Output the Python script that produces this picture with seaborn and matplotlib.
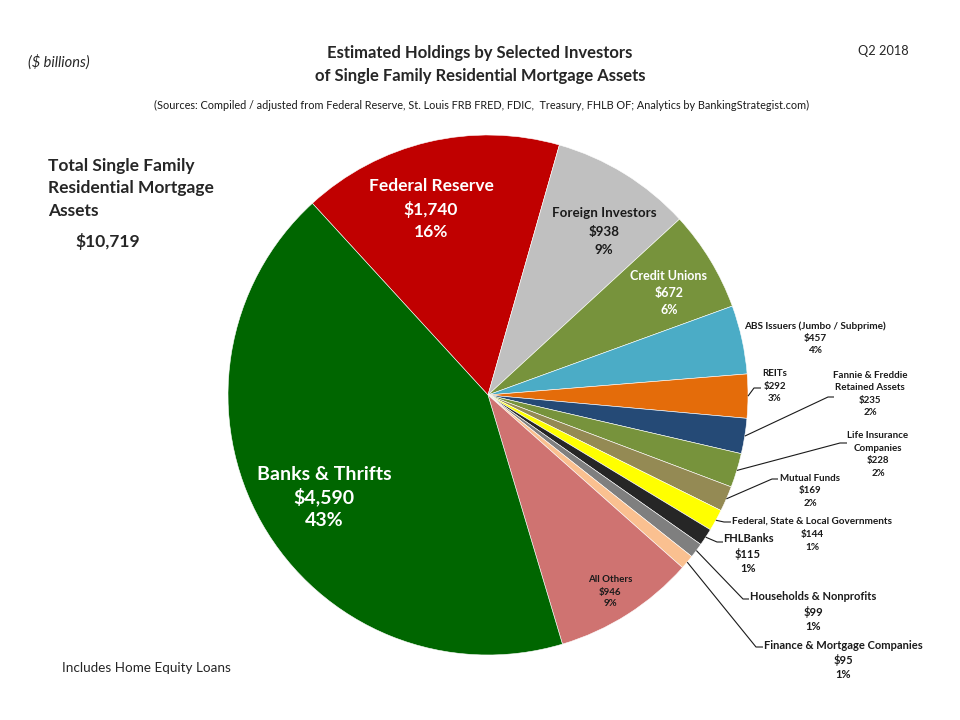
import numpy as np
import matplotlib
matplotlib.use("Agg")
import matplotlib.pyplot as plt
import seaborn as sns

# ── dados (US$ bilhões, Q2 2018) ───────────────────────────────
investors = [
    "Federal Reserve", "Foreign Investors", "Credit Unions",
    "ABS Issuers (Jumbo / Subprime)", "REITs",
    "Fannie & Freddie\nRetained Assets", "Life Insurance\nCompanies",
    "Mutual Funds", "Federal, State & Local Governments", "FHLBanks",
    "Households & Nonprofits", "Finance & Mortgage Companies",
    "All Others", "Banks & Thrifts",
]
holdings = [1740, 938, 672, 457, 292, 235, 228, 169, 144, 115, 99, 95, 946, 4590]
colors = [
    "#C00000", "#C0C0C0", "#77933C", "#4BACC6", "#E46C0A",
    "#254A76", "#77933C", "#948A54", "#FFFF00", "#262626",
    "#7F7F7F", "#FAC090", "#CF7371", "#006600",
]
total_assets = 10719

sns.set_theme(style="white")
plt.rcParams["font.family"] = ["Lato", "DejaVu Sans"]

W, H = 960, 720
CX, CY, R = 488, 395, 260  # centro e raio da pizza em pixels

fig = plt.figure(figsize=(9.6, 7.2), dpi=100)
fig.patch.set_facecolor("white")
ax = fig.add_axes([(CX - R) / W, 1 - (CY + R) / H, 2 * R / W, 2 * R / H])

wedges, _ = ax.pie(
    holdings, colors=colors, startangle=132.5, counterclock=False,
    radius=1, wedgeprops=dict(edgecolor="white", linewidth=0.4),
)
ax.set_xlim(-1, 1)
ax.set_ylim(-1, 1)
ax.axis("off")


def fig_xy(px, py):
    return px / W, 1 - py / H


def to_data(px, py):
    return (px - CX) / R, (CY - py) / R


# posição do rótulo (px), tamanho, cor, cotovelo da linha guia
label_layout = [
    dict(pos=(431, 209), size=12.5, color="white", gap=23),
    dict(pos=(604, 232), size=9.6, color="#1a1a1a", gap=18.5),
    dict(pos=(669, 293), size=9, color="white", gap=17),
    dict(pos=(815, 338), size=7.2, color="#1a1a1a", gap=12),
    dict(pos=(775, 386), size=7, color="#1a1a1a", gap=12.5, elbow=(754, 388), end=(761, 388)),
    dict(pos=(870, 400), size=7, color="#1a1a1a", gap=12.5, elbow=(828, 397), end=(834, 397)),
    dict(pos=(878, 461), size=7, color="#1a1a1a", gap=12.5, elbow=(840, 443), end=(847, 443)),
    dict(pos=(810, 491), size=7, color="#1a1a1a", gap=12.5, elbow=(772, 479), end=(778, 479)),
    dict(pos=(812, 534), size=7.2, color="#1a1a1a", gap=13, elbow=(724, 522), end=(731, 522)),
    dict(pos=(748, 554), size=8, color="#1a1a1a", gap=15, elbow=(717, 542), end=(723, 542)),
    dict(pos=(813, 612), size=8, color="#1a1a1a", gap=15, elbow=(743, 599), end=(749, 599)),
    dict(pos=(843, 660), size=8, color="#1a1a1a", gap=14.5, elbow=(756, 647), end=(763, 647)),
    dict(pos=(610, 592), size=7, color="#1a1a1a", gap=12),
    dict(pos=(324, 497), size=14, color="white", gap=23),
]

for name, val, w, lay in zip(investors, holdings, wedges, label_layout):
    pct = round(val / total_assets * 100)
    lines = name.split("\n") + [f"${val:,}", f"{pct}%"]
    px, py = lay["pos"]
    n_name = len(name.split("\n"))
    # linha do valor fica em pos; nome acima, percentual abaixo
    y0 = py - n_name * lay["gap"]
    for i, txt in enumerate(lines):
        fig.text(*fig_xy(px, y0 + i * lay["gap"]), txt, ha="center", va="center",
                 fontsize=lay["size"], fontweight="bold", color=lay["color"])
    if "elbow" in lay:
        mid = np.deg2rad((w.theta1 + w.theta2) / 2)
        ex, ey = np.cos(mid), np.sin(mid)
        bx, by = to_data(*lay["elbow"])
        tx, ty = to_data(*lay["end"])
        ax.plot([ex, bx, tx], [ey, by, ty], color="#1a1a1a", lw=0.8,
                clip_on=False, solid_capstyle="butt")

# ── textos ─────────────────────────────────────────────────────
fig.text(*fig_xy(480, 53), "Estimated Holdings by Selected Investors",
         ha="center", va="center", fontsize=12, fontweight="bold")
fig.text(*fig_xy(480, 76), "of Single Family Residential Mortgage Assets",
         ha="center", va="center", fontsize=12, fontweight="bold")
fig.text(*fig_xy(482, 105),
         "(Sources: Compiled / adjusted from Federal Reserve, St. Louis FRB FRED, FDIC,  Treasury, "
         "FHLB OF; Analytics by BankingStrategist.com)",
         ha="center", va="center", fontsize=7.8, color="#1a1a1a")
fig.text(*fig_xy(28, 62), "($ billions)", ha="left", va="center",
         fontsize=10.5, style="italic")
fig.text(*fig_xy(883, 51), "Q2 2018", ha="center", va="center", fontsize=9.2)

for i, txt in enumerate(["Total Single Family", "Residential Mortgage", "Assets"]):
    fig.text(*fig_xy(48, 166 + i * 22.5), txt, ha="left", va="center",
             fontsize=12.5, fontweight="bold")
fig.text(*fig_xy(75, 242), f"${total_assets:,}", ha="left", va="center",
         fontsize=12.5, fontweight="bold")
fig.text(*fig_xy(62, 668), "Includes Home Equity Loans", ha="left", va="center",
         fontsize=9.7)

fig.savefig("out.png", dpi=100)
plt.close(fig)
